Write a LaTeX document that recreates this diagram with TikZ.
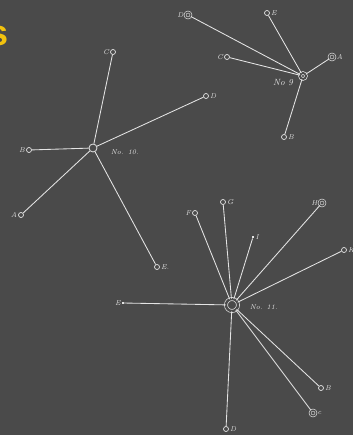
\documentclass[tikz,border=0pt]{standalone}
\usepackage{fontspec}
\newfontfamily\titlefont{Liberation Sans}
\usetikzlibrary{positioning}
\definecolor{slate}{HTML}{4A4A4A}
\definecolor{chalk}{HTML}{E4E4E4}
\definecolor{titleyellow}{HTML}{F2C20E}

\begin{document}
\begin{tikzpicture}[
  x=1pt, y=-1pt,
  every node/.style={font=\fontsize{7}{8}\selectfont\itshape, text=chalk},
  every label/.style={inner sep=1pt},
  spoke/.style={draw=chalk, line width=0.85pt},
  hub/.style={circle, draw=chalk, line width=0.8pt, inner sep=0pt, minimum size=#1},
  dhub/.style={circle, draw=chalk, line width=0.7pt, double=slate, double distance=#1, inner sep=0pt},
  leaf/.style={circle, draw=chalk, fill=slate, line width=0.7pt, inner sep=0pt, minimum size=5pt},
  dleaf/.style={circle, draw=chalk, fill=slate, line width=0.6pt, double=slate, double distance=1.2pt, inner sep=0pt, minimum size=6pt},
  tip/.style={rectangle, fill=chalk, inner sep=0pt, minimum size=2.5pt},
  tag/.style={font=\fontsize{7}{8}\selectfont\itshape}
]
\fill[slate] (0,0) rectangle (353,435);
\useasboundingbox (0,0) rectangle (353,435);
\clip (0,0) rectangle (353,435);

% title remnant
\node[anchor=base east, inner sep=0pt, text=titleyellow, font=\titlefont\bfseries\fontsize{36}{40}\selectfont] (title) at (9,46) {s};

% No. 10
\node[hub=8pt] (hubX) at (93,148) {};
\node[leaf, label={left:C}] (xC) at (113,52) {};
\node[leaf, label={right:D}] (xD) at (206,96) {};
\node[leaf, label={left:B}] (xB) at (29,150) {};
\node[leaf, label={left:A}] (xA) at (21,215) {};
\node[leaf, label={right:E.}] (xE) at (157,267) {};
\node[tag, right=10pt of hubX, yshift=-4pt] (nameX) {No. 10.};

\foreach \leaf in {xC,xD,xB,xA,xE}
  \draw[spoke] (hubX) -- (\leaf);

% No. 9
\node[dhub=2pt, minimum size=6pt] (hubIX) at (303,76) {};
\node[dleaf, label={left:D}] (nD) at (188,15) {};
\node[leaf, label={right:E}] (nE) at (267,13) {};
\node[leaf, label={left:C}] (nC) at (227,57) {};
\node[dleaf, label={right:A}] (nA) at (332,57) {};
\node[leaf, label={right:B}] (nB) at (284,137) {};
\node[tag, font=\fontsize{9}{10}\selectfont\itshape] (nameIX) at (283,83) {No 9};

\foreach \leaf in {nD,nE,nC,nA,nB}
  \draw[spoke] (hubIX) -- (\leaf);

% No. 11
\node[dhub=2.4pt, minimum size=12pt] (hubXI) at (232,305) {};
\node[leaf, label={left:F}] (kF) at (195,213) {};
\node[leaf, label={right:G}] (kG) at (223,202) {};
\node[tip, label={right:I}] (kI) at (253,237) {};
\node[dleaf, label={left:H}] (kH) at (322,203) {};
\node[leaf, label={right:K}] (kK) at (344,250) {};
\node[tip, minimum size=2pt, label={left:E}] (kE) at (123,303) {};
\node[leaf, label={right:B}] (kB) at (321,388) {};
\node[dleaf, label={right:c}] (kC) at (313,413) {};
\node[leaf, label={right:D}] (kD) at (226,429) {};
\node[tag, right=8pt of hubXI, yshift=-2pt] (nameXI) {No. 11.};

\foreach \leaf in {kF,kG,kI,kH,kK,kE,kB,kC,kD}
  \draw[spoke] (hubXI) -- (\leaf);

\end{tikzpicture}
\end{document}
